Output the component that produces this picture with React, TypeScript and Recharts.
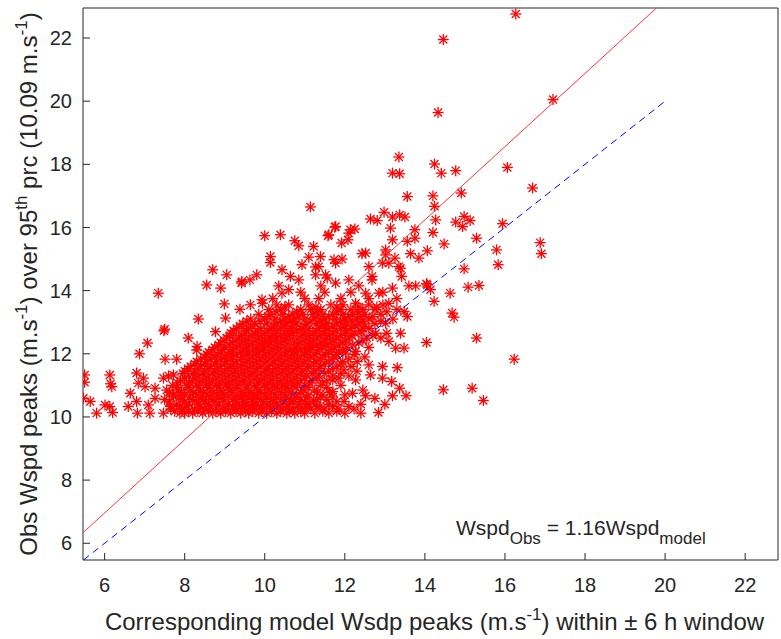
import React from 'react';
import { ScatterChart, Scatter, XAxis, YAxis, Customized } from 'recharts';

// axis limits (m.s-1)
const xMin = 5.46;
const xMax = 22.82;
const yMin = 5.47;
const yMax = 22.95;
const axisTicks = [6, 8, 10, 12, 14, 16, 18, 20, 22];

// fitted slope and 1:1 reference end
const fitSlope = 1.16;
const oneToOneEnd = 20;

// isolated peaks [model, obs]
const outerPoints: [number, number][] = [
  [16.27, 22.76], [14.46, 21.95], [14.33, 19.64], [17.2, 20.05], [14.24, 18.01], [14.41, 17.72],
  [14.77, 17.8], [16.06, 17.9], [16.69, 17.25], [14.2, 17.0], [14.91, 17.09], [14.24, 16.67],
  [14.27, 16.24], [14.77, 16.17], [14.98, 16.35], [15.13, 16.22], [14.94, 16.03], [15.94, 16.12],
  [14.2, 15.84], [15.29, 15.66], [14.48, 15.48], [14.06, 15.26], [16.88, 15.52], [16.91, 15.17],
  [15.79, 15.29], [15.83, 14.82], [14.98, 14.69], [14.04, 14.22], [14.14, 14.03], [14.23, 13.66],
  [14.63, 13.92], [15.08, 14.11], [15.35, 14.16], [14.68, 13.29], [14.73, 13.16], [14.04, 12.36],
  [15.29, 12.5], [16.23, 11.83], [14.46, 10.86], [15.18, 10.91], [15.46, 10.52],
];

// upper spread above the main cloud
const upperPoints: [number, number][] = [
  [13.35, 18.23], [13.19, 17.72], [13.37, 17.7], [13.56, 16.98], [11.14, 16.65], [12.98, 16.48],
  [12.64, 16.27], [12.81, 16.22], [13.19, 16.33], [13.37, 16.4], [13.5, 16.33], [11.75, 16.01],
  [12.14, 15.93], [12.25, 15.95], [11.58, 15.74], [10.0, 15.74], [10.39, 15.77], [13.14, 15.98],
  [13.75, 15.93], [10.75, 15.58], [10.85, 15.42], [11.22, 15.4], [11.92, 15.51], [12.08, 15.61],
  [13.19, 15.61], [13.56, 15.56], [13.75, 15.66], [10.14, 15.08], [10.14, 14.89], [10.43, 14.66],
  [11.1, 15.06], [11.39, 15.08], [11.73, 14.98], [11.93, 15.0], [12.43, 15.17], [13.02, 15.13],
  [13.25, 15.03], [13.64, 15.17], [13.85, 15.03], [9.8, 14.5], [10.64, 14.45], [10.93, 14.82],
  [11.27, 14.75], [11.52, 14.5], [11.77, 14.87], [12.6, 14.76], [12.68, 14.45], [13.1, 14.87],
  [13.35, 14.76], [13.42, 14.45], [11.77, 16.03], [11.6, 15.77], [12.1, 15.82], [12.52, 15.19],
  [13.02, 15.29], [11.35, 14.76], [12.94, 14.87], [13.39, 14.71],
];

// left side of the cloud
const leftPoints: [number, number][] = [
  [7.34, 13.92], [8.34, 13.1], [8.55, 14.18], [8.9, 14.08], [8.7, 14.66], [9.05, 14.5],
  [9.42, 14.24], [9.63, 14.34], [7.48, 12.73], [7.5, 12.78], [7.07, 12.34], [6.87, 12.0],
  [8.09, 12.5], [8.3, 12.12], [7.51, 11.83], [7.8, 11.83], [5.5, 11.33], [5.5, 11.1],
  [6.13, 11.33], [6.18, 10.96], [6.15, 11.05], [6.8, 11.39], [6.97, 11.23], [6.84, 11.07],
  [7.01, 10.96], [6.64, 10.75], [7.47, 11.23], [7.72, 11.33], [7.26, 10.91], [5.64, 10.49],
  [5.47, 10.59], [5.8, 10.12], [6.01, 10.38], [6.13, 10.33], [6.2, 10.14], [6.59, 10.33],
  [6.8, 10.49], [6.82, 10.12], [7.09, 10.38], [7.13, 10.12], [7.47, 10.12], [7.26, 10.59],
  [7.64, 10.33], [7.88, 10.12], [7.72, 10.65], [9.43, 14.29], [10.43, 13.92], [8.99, 13.58],
  [9.38, 13.41], [9.64, 13.55], [9.93, 13.71], [9.02, 13.13], [8.77, 12.7], [8.31, 12.23],
];

// right side of the cloud, near the 1:1 line
const rightPoints: [number, number][] = [
  [11.38, 10.35], [11.0, 10.12], [11.98, 10.49], [12.19, 10.75], [12.23, 10.25], [12.52, 10.67],
  [12.75, 10.59], [12.84, 10.14], [13.19, 10.67], [13.53, 10.67], [13.37, 10.91], [11.7, 10.8],
  [11.7, 11.17], [11.98, 11.49], [12.27, 11.17], [12.64, 11.33], [12.94, 11.23], [13.17, 11.12],
  [13.31, 11.56], [12.94, 11.6], [12.6, 11.65], [12.31, 11.75], [12.02, 12.02], [12.27, 12.07],
  [13.27, 12.18], [13.48, 12.18], [13.1, 12.39], [13.39, 12.65], [13.77, 14.15], [14.06, 14.18],
  [13.48, 13.34], [13.56, 13.18], [13.1, 13.6], [13.02, 12.97], [12.77, 12.65], [12.42, 12.7],
  [12.52, 13.92], [12.85, 13.92], [13.19, 14.08], [12.68, 14.34], [12.27, 13.6], [9.94, 13.6],
  [10.6, 14.03], [10.85, 14.34], [11.27, 14.5], [11.56, 14.4], [11.77, 14.24], [12.1, 14.34],
];

// dense core, one obs level per row
const coreObs = [
  10.12, 10.25, 10.4, 10.55, 10.7, 10.85, 11.0, 11.15, 11.3, 11.45, 11.6, 11.75, 11.9, 12.05,
  12.2, 12.35, 12.5, 12.65, 12.8, 12.95, 13.1, 13.25, 13.4, 13.55, 13.75, 13.95, 14.15,
];
const coreModel: number[][] = [
  [8.0, 8.2, 8.45, 8.7, 8.9, 9.15, 9.4, 9.6, 9.85, 10.05, 10.3, 10.55, 10.75, 11.25, 11.6, 12.0, 12.4],
  [7.65, 7.95, 8.25, 8.5, 8.8, 9.05, 9.3, 9.5, 9.75, 9.95, 10.2, 10.45, 10.7, 10.95, 11.15, 11.5, 11.85],
  [7.8, 8.1, 8.35, 8.6, 8.85, 9.1, 9.35, 9.55, 9.8, 10.05, 10.3, 10.6, 10.85, 11.1, 11.6, 12.4, 13.0],
  [7.5, 7.95, 8.2, 8.45, 8.7, 8.95, 9.2, 9.45, 9.7, 9.9, 10.15, 10.4, 10.65, 10.9, 11.3, 11.55],
  [7.7, 8.0, 8.3, 8.55, 8.8, 9.0, 9.25, 9.5, 9.75, 10.0, 10.25, 10.5, 10.8, 11.1, 11.45, 12.0],
  [7.55, 7.85, 8.15, 8.4, 8.65, 8.9, 9.15, 9.4, 9.6, 9.85, 10.1, 10.35, 10.6, 10.95, 11.25, 12.45],
  [7.7, 8.05, 8.3, 8.55, 8.8, 9.05, 9.3, 9.5, 9.75, 10.0, 10.2, 10.45, 10.7, 11.0, 11.4, 11.9],
  [7.9, 8.2, 8.45, 8.7, 8.95, 9.2, 9.45, 9.65, 9.9, 10.15, 10.4, 10.65, 10.9, 11.2, 11.55],
  [7.6, 8.1, 8.35, 8.6, 8.85, 9.1, 9.35, 9.6, 9.8, 10.05, 10.3, 10.55, 10.8, 11.05, 11.35, 11.7, 12.1],
  [8.0, 8.25, 8.5, 8.75, 9.0, 9.25, 9.5, 9.75, 10.0, 10.2, 10.45, 10.7, 10.95, 11.25, 11.6, 12.3],
  [8.15, 8.4, 8.65, 8.9, 9.15, 9.4, 9.65, 9.9, 10.1, 10.35, 10.6, 10.85, 11.1, 11.4, 11.8, 12.15],
  [8.3, 8.55, 8.8, 9.05, 9.3, 9.55, 9.8, 10.05, 10.25, 10.5, 10.75, 11.0, 11.3, 11.6, 11.95],
  [8.5, 8.75, 9.0, 9.2, 9.45, 9.7, 9.95, 10.2, 10.4, 10.65, 10.9, 11.15, 11.45, 11.75, 12.5],
  [8.6, 8.9, 9.15, 9.4, 9.6, 9.85, 10.1, 10.35, 10.55, 10.8, 11.05, 11.3, 11.6, 11.85],
  [8.75, 9.0, 9.3, 9.55, 9.8, 10.0, 10.25, 10.5, 10.75, 11.0, 11.2, 11.45, 11.75, 12.05, 12.6],
  [8.9, 9.2, 9.45, 9.7, 9.95, 10.15, 10.4, 10.65, 10.9, 11.15, 11.4, 11.65, 11.95, 12.35],
  [9.05, 9.35, 9.6, 9.85, 10.1, 10.3, 10.55, 10.8, 11.05, 11.3, 11.55, 11.8, 12.1, 12.55, 12.9],
  [9.15, 9.5, 9.75, 10.0, 10.25, 10.5, 10.7, 10.95, 11.2, 11.45, 11.7, 12.0, 12.25, 13.05],
  [9.3, 9.6, 9.9, 10.15, 10.4, 10.65, 10.9, 11.1, 11.35, 11.6, 11.9, 12.15, 12.6],
  [9.45, 9.75, 10.05, 10.3, 10.55, 10.8, 11.05, 11.3, 11.55, 11.8, 12.05, 12.35, 12.75],
  [9.65, 10.0, 10.25, 10.5, 10.75, 11.0, 11.25, 11.5, 11.75, 12.0, 12.3, 12.6, 13.2],
  [9.85, 10.15, 10.45, 10.7, 10.95, 11.2, 11.45, 11.7, 11.95, 12.2, 12.5, 12.9],
  [10.1, 10.4, 10.9, 11.15, 11.4, 11.9, 12.15, 12.45, 12.75, 13.3],
  [10.3, 10.6, 11.1, 11.65, 11.95, 12.6, 12.95],
  [10.2, 11.0, 11.35, 11.9, 12.6, 13.3],
  [10.9, 11.5, 12.15, 12.95],
  [10.35, 11.4, 12.35, 13.6],
];

// dense core, in-between obs levels
const coreObsMid = [
  10.18, 10.33, 10.48, 10.63, 10.78, 10.93, 11.08, 11.23, 11.38, 11.53, 11.68, 11.83, 11.98,
  12.13, 12.28, 12.43, 12.58, 12.73, 12.88, 13.03, 13.18, 13.33, 13.48,
];
const coreModelMid: number[][] = [
  [7.75, 8.1, 8.33, 8.6, 8.78, 9.02, 9.28, 9.52, 9.7, 9.93, 10.17, 10.4, 10.62, 10.9, 11.45, 11.8],
  [7.9, 8.05, 8.4, 8.62, 8.95, 9.2, 9.43, 9.66, 9.9, 10.12, 10.38, 10.58, 10.82, 11.05, 11.3, 11.7, 12.1],
  [7.62, 8.0, 8.28, 8.52, 8.76, 9.0, 9.27, 9.48, 9.72, 9.96, 10.22, 10.48, 10.72, 11.0, 11.22, 11.8],
  [7.85, 8.12, 8.38, 8.63, 8.86, 9.1, 9.34, 9.58, 9.82, 10.06, 10.3, 10.55, 10.78, 11.05, 11.4, 11.7],
  [7.62, 7.92, 8.22, 8.47, 8.72, 8.95, 9.18, 9.42, 9.66, 9.9, 10.16, 10.42, 10.66, 10.9, 11.3, 11.62],
  [7.8, 8.08, 8.35, 8.58, 8.83, 9.08, 9.3, 9.55, 9.8, 10.03, 10.28, 10.52, 10.78, 11.08, 11.55],
  [7.82, 8.12, 8.38, 8.62, 8.88, 9.12, 9.38, 9.6, 9.84, 10.08, 10.32, 10.57, 10.82, 11.12, 11.45],
  [8.0, 8.28, 8.53, 8.78, 9.02, 9.27, 9.52, 9.74, 9.98, 10.22, 10.48, 10.73, 11.0, 11.3, 11.85],
  [7.95, 8.22, 8.45, 8.7, 8.93, 9.18, 9.43, 9.68, 9.9, 10.13, 10.38, 10.62, 10.9, 11.18, 11.5, 11.9],
  [8.08, 8.33, 8.58, 8.82, 9.08, 9.32, 9.56, 9.82, 10.05, 10.28, 10.53, 10.78, 11.05, 11.35, 11.7],
  [8.25, 8.5, 8.75, 9.0, 9.22, 9.48, 9.72, 9.98, 10.2, 10.43, 10.68, 10.93, 11.22, 11.5, 11.9],
  [8.4, 8.65, 8.92, 9.15, 9.4, 9.62, 9.88, 10.12, 10.35, 10.58, 10.82, 11.08, 11.38, 11.68, 12.1],
  [8.55, 8.82, 9.08, 9.3, 9.55, 9.78, 10.02, 10.28, 10.5, 10.72, 10.98, 11.25, 11.52, 11.8, 12.25],
  [8.7, 8.95, 9.22, 9.48, 9.72, 9.95, 10.18, 10.42, 10.65, 10.9, 11.12, 11.38, 11.68, 11.95],
  [8.85, 9.12, 9.38, 9.62, 9.88, 10.08, 10.32, 10.58, 10.82, 11.08, 11.3, 11.55, 11.85, 12.2],
  [8.98, 9.28, 9.52, 9.78, 10.02, 10.24, 10.48, 10.72, 10.98, 11.22, 11.48, 11.72, 12.02, 12.45],
  [9.12, 9.42, 9.68, 9.92, 10.18, 10.4, 10.62, 10.88, 11.12, 11.38, 11.62, 11.9, 12.18, 12.7],
  [9.22, 9.55, 9.82, 10.08, 10.32, 10.58, 10.8, 11.02, 11.28, 11.52, 11.78, 12.05, 12.4],
  [9.38, 9.68, 10.22, 10.48, 10.72, 10.98, 11.45, 11.7, 11.98, 12.25, 12.5],
  [9.55, 9.88, 10.4, 10.65, 11.15, 11.4, 11.9, 12.18, 12.45, 12.9],
  [10.08, 10.6, 10.85, 11.35, 11.6, 12.1, 12.4, 12.7],
  [10.28, 10.8, 11.3, 11.8, 12.32, 13.05],
  [10.5, 11.28, 11.8, 12.35, 12.8],
];

const toPts = (list: [number, number][]) => list.map(([x, y]) => ({ x, y }));
const rowPts = (obsLevels: number[], models: number[][]) =>
  obsLevels.flatMap((obs, i) => models[i].map((m) => ({ x: m, y: obs })));

const peaks = [
  ...toPts(outerPoints),
  ...toPts(upperPoints),
  ...toPts(leftPoints),
  ...toPts(rightPoints),
  ...rowPts(coreObs, coreModel),
  ...rowPts(coreObsMid, coreModelMid),
];

const fitLine = [
  { x: xMin, y: xMin * fitSlope },
  { x: yMax / fitSlope, y: yMax },
];
const oneToOne = [
  { x: yMin, y: yMin },
  { x: oneToOneEnd, y: oneToOneEnd },
];

const FONT = '"Liberation Sans", Arial, Helvetica, sans-serif';
const INK = '#262626';

const Star = (props: any) => {
  const { cx, cy } = props;
  if (cx == null || cy == null) return <g />;
  const r = 5.5;
  const d = 4;
  return (
    <g stroke="#ff0000" strokeWidth={1.3}>
      <line x1={cx - r} y1={cy} x2={cx + r} y2={cy} />
      <line x1={cx} y1={cy - r} x2={cx} y2={cy + r} />
      <line x1={cx - d} y1={cy - d} x2={cx + d} y2={cy + d} />
      <line x1={cx - d} y1={cy + d} x2={cx + d} y2={cy - d} />
    </g>
  );
};

const NoMark = () => <g />;

const XLabel = (props: any) => {
  const { x, y, width } = props.viewBox;
  return (
    <text x={x + width / 2 + 4} y={y + 70} textAnchor="middle" fontFamily={FONT} fontSize={24} fill={INK}>
      Corresponding model Wsdp peaks (m.s
      <tspan dy={-10} fontSize={17}>-1</tspan>
      <tspan dy={10}>) within  ± 6 h window</tspan>
    </text>
  );
};

const YLabel = (props: any) => {
  const { y, height } = props.viewBox;
  const cx = 37;
  const cy = y + height / 2;
  return (
    <text
      x={cx}
      y={cy}
      transform={`rotate(-90 ${cx} ${cy})`}
      textAnchor="middle"
      fontFamily={FONT}
      fontSize={24}
      fill={INK}
    >
      Obs Wspd peaks (m.s
      <tspan dy={-10} fontSize={17}>-1</tspan>
      <tspan dy={10}>) over 95</tspan>
      <tspan dy={-10} fontSize={17}>th</tspan>
      <tspan dy={10}> prc (10.09 m.s</tspan>
      <tspan dy={-10} fontSize={17}>-1</tspan>
      <tspan dy={10}>)</tspan>
    </text>
  );
};

const Equation = () => (
  <text x={456} y={535} fontFamily={FONT} fontSize={21} fill={INK}>
    Wspd
    <tspan dy={9} fontSize={17}>Obs</tspan>
    <tspan dy={-9}> = 1.16Wspd</tspan>
    <tspan dy={9} fontSize={17}>model</tspan>
  </text>
);

export default function App() {
  const tickStyle = { fontFamily: FONT, fontSize: 20, fill: INK };
  return (
    <div style={{ position: 'absolute', left: 0, top: 0, width: 781, height: 639, background: '#fff' }}>
      <ScatterChart width={781} height={639} margin={{ top: 0, right: 0, bottom: 0, left: 0 }}>
        <XAxis
          type="number"
          dataKey="x"
          domain={[xMin, xMax]}
          ticks={axisTicks}
          allowDataOverflow
          height={79}
          tickSize={-7}
          tickMargin={25}
          stroke={INK}
          tick={tickStyle}
          label={{ content: XLabel }}
        />
        <XAxis
          xAxisId="top"
          orientation="top"
          type="number"
          dataKey="x"
          domain={[xMin, xMax]}
          ticks={axisTicks}
          allowDataOverflow
          height={8}
          tickSize={-7}
          tick={false}
          stroke={INK}
        />
        <YAxis
          type="number"
          dataKey="y"
          domain={[yMin, yMax]}
          ticks={axisTicks}
          allowDataOverflow
          width={83}
          tickSize={-7}
          tickMargin={18}
          stroke={INK}
          tick={tickStyle}
          label={{ content: YLabel }}
        />
        <YAxis
          yAxisId="right"
          orientation="right"
          type="number"
          dataKey="y"
          domain={[yMin, yMax]}
          ticks={axisTicks}
          allowDataOverflow
          width={3}
          tickSize={-7}
          tick={false}
          stroke={INK}
        />
        <Scatter data={peaks} shape={Star} isAnimationActive={false} />
        <Scatter data={fitLine} line={{ stroke: '#ff3333', strokeWidth: 1 }} shape={NoMark} isAnimationActive={false} />
        <Scatter
          data={oneToOne}
          line={{ stroke: '#0000ff', strokeWidth: 1, strokeDasharray: '7 5' }}
          shape={NoMark}
          isAnimationActive={false}
        />
        <Customized component={Equation} />
      </ScatterChart>
    </div>
  );
}
